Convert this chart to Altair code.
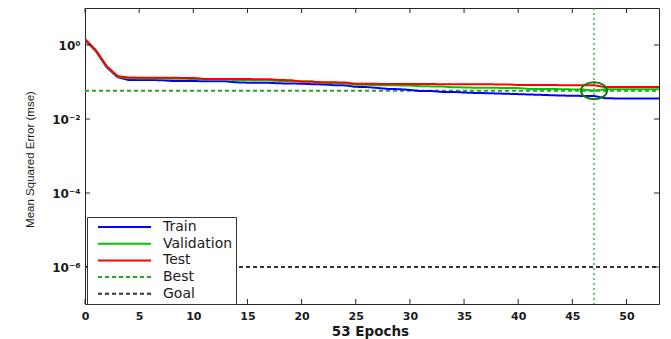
import altair as alt
import pandas as pd

# ---------------- data ----------------
epochs = list(range(54))
train = [1.35, 0.68, 0.25, 0.135, 0.114, 0.113, 0.113, 0.112, 0.107, 0.106,
         0.106, 0.105, 0.105, 0.104, 0.098, 0.096, 0.096, 0.095, 0.092, 0.091,
         0.090, 0.087, 0.086, 0.082, 0.081, 0.074, 0.073, 0.069, 0.065, 0.064,
         0.061, 0.057, 0.057, 0.054, 0.054, 0.052, 0.0505, 0.050, 0.049, 0.048,
         0.047, 0.046, 0.045, 0.044, 0.043, 0.0425, 0.042, 0.042, 0.0365, 0.036,
         0.036, 0.036, 0.036, 0.036]
validation = [1.40, 0.70, 0.26, 0.14, 0.126, 0.125, 0.124, 0.124, 0.123, 0.122,
              0.121, 0.117, 0.116, 0.116, 0.113, 0.112, 0.112, 0.111, 0.106, 0.105,
              0.105, 0.104, 0.094, 0.093, 0.092, 0.085, 0.084, 0.082, 0.0815, 0.081,
              0.080, 0.077, 0.076, 0.0755, 0.072, 0.0715, 0.070, 0.0698, 0.0695, 0.069,
              0.0688, 0.065, 0.0648, 0.0645, 0.064, 0.063, 0.0625, 0.0582, 0.0635, 0.0634,
              0.0634, 0.0633, 0.0633, 0.0632]
test = [1.45, 0.73, 0.27, 0.145, 0.132, 0.131, 0.131, 0.130, 0.130, 0.129,
        0.129, 0.121, 0.121, 0.120, 0.120, 0.120, 0.119, 0.119, 0.113, 0.112,
        0.102, 0.101, 0.098, 0.098, 0.097, 0.089, 0.089, 0.089, 0.088, 0.088,
        0.088, 0.088, 0.088, 0.087, 0.087, 0.087, 0.087, 0.087, 0.086, 0.086,
        0.083, 0.083, 0.083, 0.083, 0.082, 0.082, 0.082, 0.082, 0.073, 0.073,
        0.073, 0.073, 0.073, 0.073]
best_epoch = 47
best_value = 0.0582
goal_value = 1e-6

x_range = [0, 53]
y_range = [1e-7, 10]
x_ticks = [0, 5, 10, 15, 20, 25, 30, 35, 40, 45, 50]
y_ticks = [1, 1e-2, 1e-4, 1e-6]
y_tick_labels = ["10\u2070", "10\u207b\u00b2", "10\u207b\u2074", "10\u207b\u2076"]
x_title = "53 Epochs"
y_title = "Mean Squared Error  (mse)"

series_names = ["Train", "Validation", "Test", "Best", "Goal"]
series_colors = ["#0000ff", "#00c800", "#ff0000", "#2ca02c", "#333333"]
series_dash = [[1, 0], [1, 0], [1, 0], [4, 3], [4, 3]]
series_width = [2, 2, 2, 1.2, 1]

# ---------------- tables ----------------
rows = []
for name, vals in [("Best", [best_value, best_value]), ("Goal", [goal_value, goal_value])]:
    for e, v in zip(x_range, vals):
        rows.append({"epoch": e, "value": v, "series": name})
for name, vals in [("Train", train), ("Validation", validation), ("Test", test)]:
    for e, v in zip(epochs, vals):
        rows.append({"epoch": e, "value": v, "series": name})
df = pd.DataFrame(rows)

xscale = alt.Scale(domain=x_range, nice=False, zero=False)
yscale = alt.Scale(type="log", domain=y_range, nice=False)

# label expression for the y ticks (10^k with superscripts)
expr = "'" + y_tick_labels[-1] + "'"
for v, lab in reversed(list(zip(y_ticks[:-1], y_tick_labels[:-1]))):
    expr = f"datum.value > {v / 10} ? '{lab}' : " + expr

TXT = "#1a1a1a"
W, H = 574, 296

x_axis = alt.Axis(
    values=x_ticks, ticks=False, tickSize=0, domain=False, grid=False,
    labelFont="DejaVu Sans", labelFontWeight="bold", labelFontSize=11,
    labelColor=TXT, labelPadding=6, labelFlush=False,
    titleFont="DejaVu Sans", titleFontWeight="bold", titleFontSize=13.5,
    titleColor=TXT, titleX=285, titleY=20, titleBaseline="top", titleAlign="center")
y_axis = alt.Axis(
    values=y_ticks, labelExpr=expr, ticks=False, tickSize=0, domain=False, grid=False,
    labelFont="DejaVu Sans", labelFontWeight="bold", labelFontSize=12,
    labelColor=TXT, labelPadding=5,
    titleFont="Liberation Sans", titleFontWeight="normal", titleFontSize=11.5,
    titleColor=TXT, titleAngle=270, titleX=-55, titleY=151,
    titleBaseline="middle", titleAlign="center")


def xenc():
    return alt.X("epoch:Q", scale=xscale, title=x_title, axis=x_axis)


def yenc():
    return alt.Y("value:Q", scale=yscale, title=y_title, axis=y_axis)


legend = alt.Legend(
    title=None, orient="none", legendX=2, legendY=209,
    padding=3, clipHeight=14, rowPadding=2.7,
    symbolType="stroke", symbolSize=2809, symbolOffset=7,
    labelOffset=11, labelFont="DejaVu Sans", labelFontSize=14, labelColor=TXT,
    fillColor="white", strokeColor="#333333",
)

lines = alt.Chart(df).mark_line(clip=True).encode(
    x=xenc(),
    y=yenc(),
    color=alt.Color("series:N", scale=alt.Scale(domain=series_names, range=series_colors), legend=legend),
    strokeDash=alt.StrokeDash("series:N", scale=alt.Scale(domain=series_names, range=series_dash), legend=legend),
    strokeWidth=alt.StrokeWidth("series:N", scale=alt.Scale(domain=series_names, range=series_width), legend=legend),
)

best_df = pd.DataFrame({"epoch": [best_epoch], "value": [best_value]})
vline = alt.Chart(best_df).mark_rule(color="#2ca02c", strokeDash=[2, 3], strokeWidth=1.3).encode(
    x=xenc()
)
ellipse = "M -1 0 A 1 0.65 0 1 1 1 0 A 1 0.65 0 1 1 -1 0 Z"
circle = alt.Chart(best_df).mark_point(shape=ellipse, size=676, filled=False,
                                        color="#117a11", strokeWidth=2, opacity=1).encode(
    x=xenc(),
    y=yenc(),
)

xt = pd.DataFrame({"epoch": x_ticks})
yt = pd.DataFrame({"value": y_ticks})
TK = "#262626"
xtick_b = alt.Chart(xt).mark_rule(color=TK).encode(
    x=xenc(), y=alt.value(H - 5), y2=alt.value(H))
xtick_t = alt.Chart(xt).mark_rule(color=TK).encode(
    x=xenc(), y=alt.value(0), y2=alt.value(5))
ytick_l = alt.Chart(yt).mark_rule(color=TK).encode(
    y=yenc(), x=alt.value(0), x2=alt.value(5))
ytick_r = alt.Chart(yt).mark_rule(color=TK).encode(
    y=yenc(), x=alt.value(W - 5), x2=alt.value(W))

chart = alt.layer(lines, vline, circle, xtick_b, xtick_t, ytick_l, ytick_r).properties(
    width=W, height=H,
    autosize=alt.AutoSizeParams(type="none"),
    padding={"left": 77, "top": 0, "right": 4, "bottom": 35},
    background="white",
).configure_view(stroke="#262626", strokeWidth=1)

chart.save("out.html", embed_options={"renderer": "svg", "actions": False})
